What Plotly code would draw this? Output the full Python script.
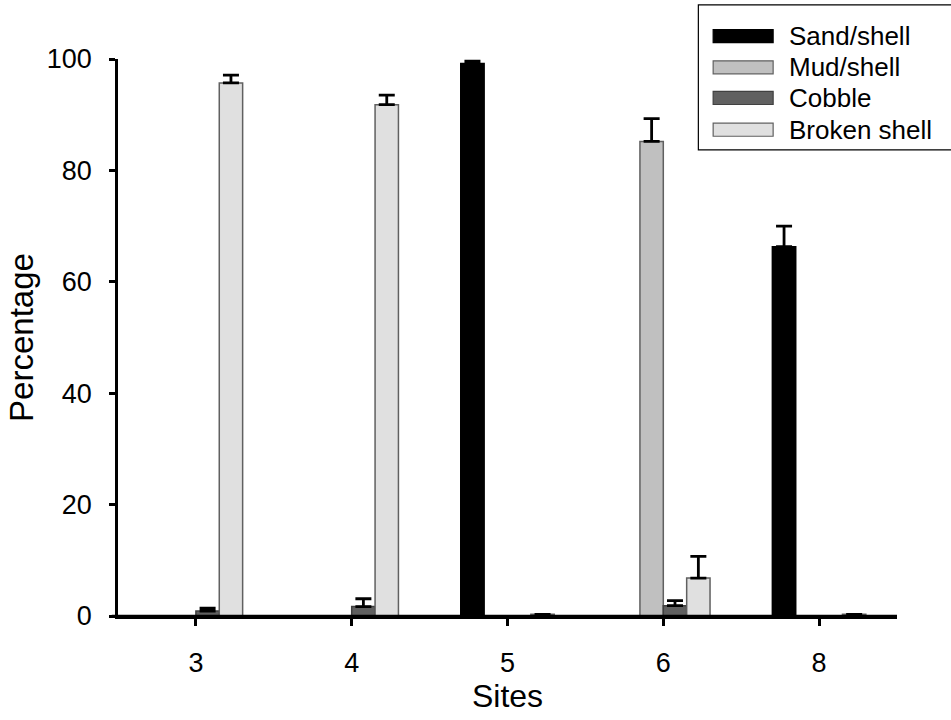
import plotly.graph_objects as go

sites = ["3", "4", "5", "6", "8"]
series_names = ["Sand/shell", "Mud/shell", "Cobble", "Broken shell"]
sand_shell = [0, 0, 99.2, 0, 66.3]
sand_shell_err = [None, None, 0.4, None, 3.7]
mud_shell = [0, 0, 0, 85.2, 0]
mud_shell_err = [None, None, None, 4.1, None]
cobble = [0.9, 1.7, 0, 1.85, 0]
cobble_err = [0.5, 1.4, None, 0.9, None]
broken_shell = [95.7, 91.8, 0.3, 6.8, 0.3]
broken_shell_err = [1.4, 1.7, 0.0, 3.9, 0.0]

values = [sand_shell, mud_shell, cobble, broken_shell]
errors = [sand_shell_err, mud_shell_err, cobble_err, broken_shell_err]
fills = ["#000000", "#c0c0c0", "#606060", "#e0e0e0"]
borders = ["#000000", "#606060", "#404040", "#606060"]

FONT = "Liberation Sans, Arial, sans-serif"

fig = go.Figure()
for name, v, e, fc, bc in zip(series_names, values, errors, fills, borders):
    vv = [x if x != 0 else None for x in v]
    fig.add_trace(go.Bar(
        x=sites, y=vv, name=name,
        marker=dict(color=fc, line=dict(color=bc, width=1.5)),
        error_y=dict(type="data", symmetric=False,
                     array=[x if x is not None else float("nan") for x in e],
                     arrayminus=[0 if x is not None else float("nan") for x in e],
                     color="#000000", thickness=2.8, width=8),
        showlegend=False,
    ))

# custom legend (SigmaPlot style wide swatches)
shapes = [dict(type="rect", xref="paper", yref="paper",
               x0=0.745, x1=1.08, y0=0.837, y1=1.097,
               line=dict(color="#000000", width=1.2), fillcolor="rgba(0,0,0,0)")]
annotations = []
row_y = [1.041, 0.985, 0.930, 0.873]
for name, fc, bc, ry in zip(series_names, fills, borders, row_y):
    shapes.append(dict(type="rect", xref="paper", yref="paper",
                       x0=0.764, x1=0.841, y0=ry - 0.0117, y1=ry + 0.0117,
                       line=dict(color=bc, width=1.2), fillcolor=fc))
    annotations.append(dict(text=name, xref="paper", yref="paper",
                            x=0.859, y=ry, xanchor="left", yanchor="middle",
                            showarrow=False, font=dict(family=FONT, size=26, color="#000")))

# x axis line extending left past the y axis (SigmaPlot style)
shapes.append(dict(type="line", xref="paper", yref="paper", x0=-0.008, x1=1.0, y0=0, y1=0,
                   line=dict(color="#000000", width=2.5)))

fig.update_layout(
    width=951, height=720,
    margin=dict(l=118, r=54, t=59, b=104),
    paper_bgcolor="white", plot_bgcolor="white",
    barmode="group", bargap=0.4, bargroupgap=0,
    font=dict(family=FONT, size=26, color="#000"),
    shapes=shapes, annotations=annotations,
    xaxis=dict(
        type="category", range=[-0.5, 4.5], automargin=False,
        showline=True, linecolor="#000", linewidth=2.5,
        ticks="outside", ticklen=7, tickwidth=2.5, tickcolor="#000",
        ticklabelstandoff=14,
        showgrid=False, zeroline=False,
        tickfont=dict(family=FONT, size=27),
        title=dict(text="Sites", font=dict(family=FONT, size=32), standoff=4),
    ),
    yaxis=dict(
        range=[0, 100], tickvals=[0, 20, 40, 60, 80, 100], automargin=False,
        showline=True, linecolor="#000", linewidth=2.5,
        ticks="outside", ticklen=6, tickwidth=2.5, tickcolor="#000",
        ticklabelstandoff=12,
        showgrid=False, zeroline=False,
        tickfont=dict(family=FONT, size=27),
        title=dict(text="Percentage", font=dict(family=FONT, size=33), standoff=4),
    ),
)

fig.write_html("out.html", config={"displayModeBar": False},
               post_script="document.body.style.margin='0';")
